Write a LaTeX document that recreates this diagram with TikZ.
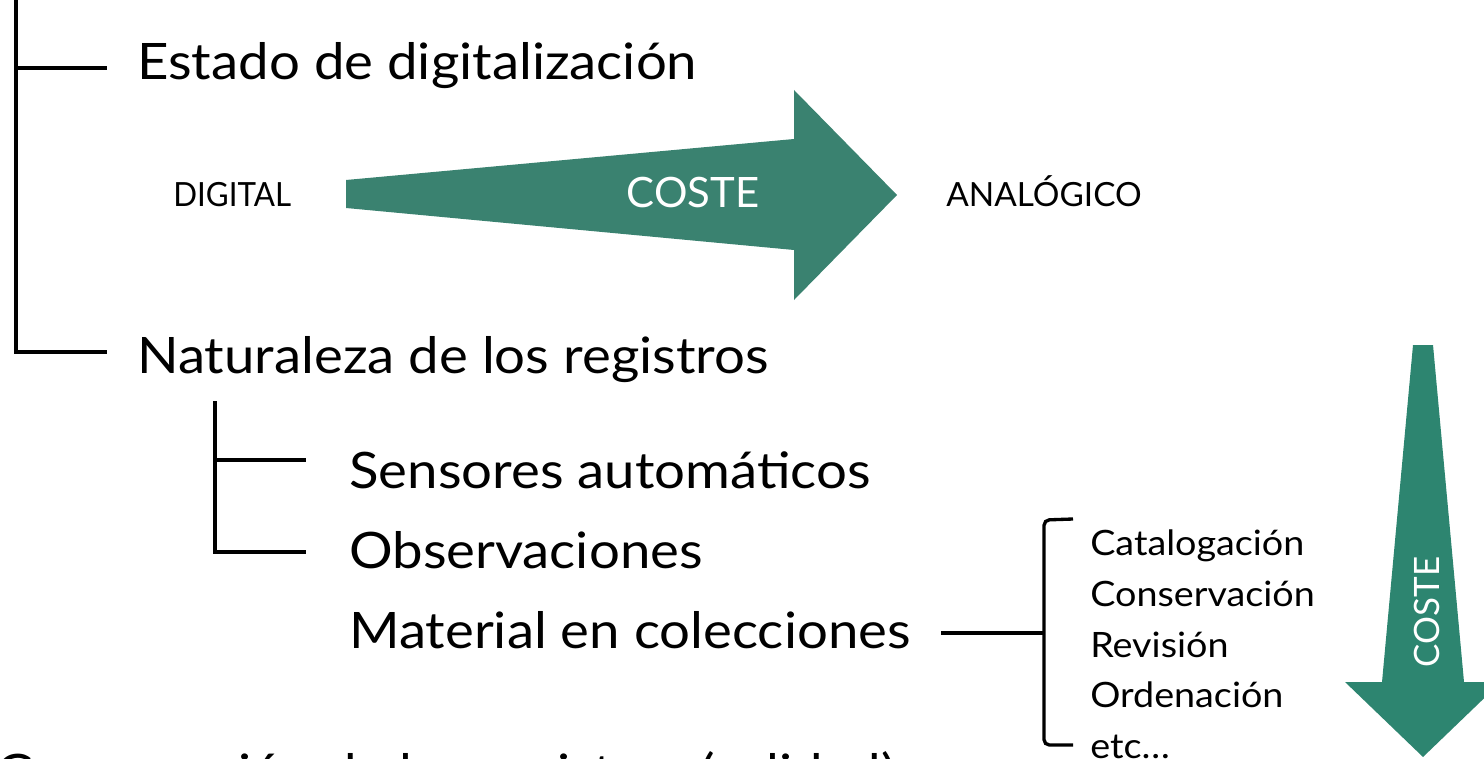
\documentclass[tikz,border=0pt]{standalone}
\usepackage{fontspec}
\usepackage{graphicx}
\setmainfont{Lato}
\definecolor{arrowA}{HTML}{3A8270}
\definecolor{arrowB}{HTML}{2D8570}
\newcommand{\wbig}[1]{\scalebox{1.085}[1]{#1}}
\newcommand{\wsmall}[1]{\scalebox{1.08}[1]{#1}}
\begin{document}
\begin{tikzpicture}[x=0.75pt,y=-0.75pt,
  bigtext/.style={anchor=base west,inner sep=0pt,font=\fontsize{37.7pt}{40pt}\selectfont},
  smalltext/.style={anchor=base west,inner sep=0pt,font=\fontsize{26.2pt}{28pt}\selectfont},
  labeltext/.style={anchor=base west,inner sep=0pt,font=\fontsize{25pt}{27pt}\selectfont},
  brace/.style={line width=2.5pt},
  bigarrowA/.style={fill=arrowA,draw=none},
  bigarrowB/.style={fill=arrowB,draw=none},
  arrowlabel/.style={anchor=base,inner sep=0pt,text=white}
]
\useasboundingbox (0,0) rectangle (1484,759);

% main texts
\node[bigtext] (estado) at (137,80) {\wbig{Estado de digitalización}};
\node[bigtext] (nat) at (137,373) {\wbig{Naturaleza de los registros}};
\node[bigtext] (sens) at (349,488) {\wbig{Sensores automáticos}};
\node[bigtext] (obs) at (349,568) {\wbig{Observaciones}};
\node[bigtext] (mat) at (349,648) {\wbig{Material en colecciones}};
\node[bigtext] (comp) at (-4,790) {\wbig{Comparación de los registros (calidad)}};

% level brackets
\coordinate (b1top) at (16,-5);
\coordinate (b1a) at (107,68);
\coordinate (b1b) at (107,352);
\draw[brace] (b1top) -- (16,352) -- (b1b);
\draw[brace] (16,68) -- (b1a);

\coordinate (b2top) at (215,401);
\coordinate (b2a) at (306,460);
\coordinate (b2b) at (306,552);
\draw[brace] (b2top) -- (215,552) -- (b2b);
\draw[brace] (215,460) -- (b2a);

% horizontal arrow
\node[labeltext] (digital) at (173,207) {\scalebox{0.94}[1]{DIGITAL}};
\node[labeltext] (analog) at (946,207) {ANALÓGICO};
\fill[bigarrowA] (346,180) -- (794,139) -- (794,90) -- (897,195) -- (794,300) -- (794,250) -- (346,208) -- cycle;
\node[arrowlabel,font=\fontsize{31.4pt}{33pt}\selectfont] (coste1) at (693,208) {COSTE};

% material bracket
\coordinate (mline) at (941,633);
\coordinate (mjoin) at (1044,633);
\draw[brace] (mline) -- (mjoin);
\draw[brace,rounded corners=4] (1073,519) -- (1044,520) -- (1044,745) -- (1073,745);

\node[smalltext] (cat) at (1090,555) {\wsmall{Catalogación}};
\node[smalltext] (cons) at (1090,606) {\wsmall{Conservación}};
\node[smalltext] (rev) at (1090,657) {\wsmall{Revisión}};
\node[smalltext] (ord) at (1090,707) {\wsmall{Ordenación}};
\node[smalltext] (etc) at (1090,758) {\wsmall{etc…}};

% vertical arrow
\fill[bigarrowB] (1413,345) -- (1433,345) -- (1464,682) -- (1501,682) -- (1423,757) -- (1345,682) -- (1382,682) -- cycle;
\node[arrowlabel,rotate=90,font=\fontsize{26.2pt}{28pt}\selectfont] (coste2) at (1439,612) {COSTE};
\end{tikzpicture}
\end{document}
